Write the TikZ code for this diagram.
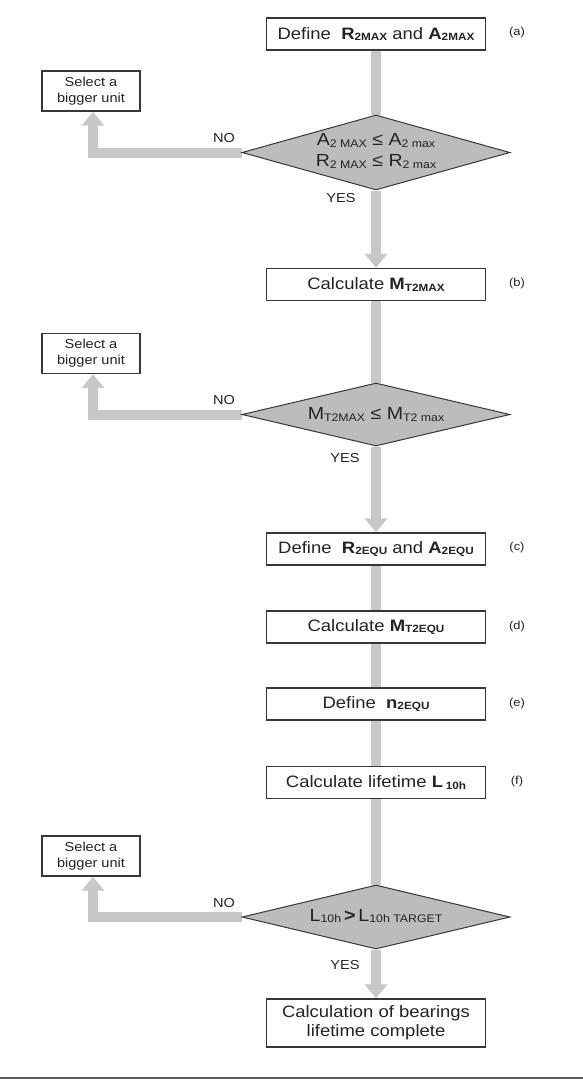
\documentclass[tikz,border=0pt]{standalone}
\usepackage{fontspec}
\setmainfont{Liberation Sans}[FakeStretch=1.12]
\usetikzlibrary{shapes.geometric,arrows.meta,backgrounds}
\definecolor{shaft}{RGB}{200,200,200}
\definecolor{dfill}{RGB}{188,188,188}
\definecolor{edge}{RGB}{55,55,55}
\definecolor{txt}{RGB}{35,35,35}
\definecolor{rule}{RGB}{95,95,95}
\newcommand{\sbb}[1]{\raisebox{-1.2pt}{\fontsize{10.5}{11}\selectfont\bfseries #1}}
\newcommand{\snn}[1]{\raisebox{-1.5pt}{\fontsize{11}{12}\selectfont #1}}
\tikzset{
  box/.style={draw=edge, line width=1.3pt, fill=white, minimum width=219pt, minimum height=32pt, inner sep=0pt, text=txt, font=\fontsize{16.5}{19}\selectfont},
  selbox/.style={draw=edge, line width=1.3pt, fill=white, minimum width=98pt, minimum height=40pt, inner sep=0pt, align=center, text=txt, font=\fontsize{13}{16}\selectfont},
  dec/.style={diamond, draw=edge, line width=1pt, fill=dfill, minimum width=268pt, minimum height=75pt, inner sep=0pt},
  dectext/.style={align=center, text=txt, font=\fontsize{17.5}{21}\selectfont},
  flow/.style={draw=shaft, line width=10pt},
  flowa/.style={flow, -{Triangle[width=22pt,length=14pt]}},
  tag/.style={text=txt, font=\fontsize{11.5}{14}\selectfont},
  lbl/.style={text=txt, font=\fontsize{13}{15}\selectfont}
}
\begin{document}
\begin{tikzpicture}[x=1pt,y=-1pt]
\useasboundingbox (0,0) rectangle (583,1081);
% main boxes
\node[box] (a) at (376,34) {Define\ \ \textbf{R}\sbb{2MAX} and \textbf{A}\sbb{2MAX}};
\node[box] (b) at (376,284.5) {Calculate \textbf{M}\sbb{T2MAX}};
\node[box] (c) at (376,549) {Define\ \ \textbf{R}\sbb{2EQU} and \textbf{A}\sbb{2EQU}};
\node[box] (d) at (376,627) {Calculate \textbf{M}\sbb{T2EQU}};
\node[box] (e) at (376,704) {Define\ \ \textbf{n}\sbb{2EQU}};
\node[box] (f) at (376,782.5) {Calculate lifetime \textbf{L}\,\sbb{10h}};
\node[box, minimum height=48pt, align=center] (fin) at (376,1023) {Calculation of bearings\\lifetime complete};
% decisions
\node[dec] (d1) at (376,152.5) {};
\node[dectext] (d1t) at (376,151) {A\snn{2 MAX} ≤ A\snn{2 max}\\R\snn{2 MAX} ≤ R\snn{2 max}};
\node[dec, minimum height=63pt] (d2) at (376,414.5) {};
\node[dectext] (d2t) at (376,414.5) {M\snn{T2MAX} ≤ M\snn{T2 max}};
\node[dec, minimum height=64pt] (d3) at (376,917) {};
\node[dectext] (d3t) at (376,916) {L\snn{10h}\,\textbf{>}\,L\snn{10h TARGET}};
% side boxes
\node[selbox] (s1) at (91,91) {Select a\\bigger unit};
\node[selbox] (s2) at (91,353.5) {Select a\\bigger unit};
\node[selbox] (s3) at (91,856) {Select a\\bigger unit};
% tags
\node[tag] (ta) at (517,33) {(a)};
\node[tag] (tb) at (517,284) {(b)};
\node[tag] (tc) at (517,548) {(c)};
\node[tag] (td) at (517,627) {(d)};
\node[tag] (te) at (517,704) {(e)};
\node[tag] (tf) at (517,782) {(f)};
% labels
\node[lbl] (no1) at (224,138) {NO};
\node[lbl] (yes1) at (341,198) {YES};
\node[lbl] (no2) at (224,400) {NO};
\node[lbl] (yes2) at (345,458) {YES};
\node[lbl] (no3) at (224,903) {NO};
\node[lbl] (yes3) at (345,965) {YES};
% connectors
\begin{pgfonlayer}{background}
\draw[flow] (a.south) -- (d1.north);
\draw[flowa] (d1.south) -- (b.north);
\draw[flowa] (d1.west) -| ([xshift=2pt]s1.south);
\draw[flow] (b.south) -- (d2.north);
\draw[flowa] (d2.south) -- (c.north);
\draw[flowa] (d2.west) -| ([xshift=2pt]s2.south);
\draw[flow] (c.south) -- (d.north);
\draw[flow] (d.south) -- (e.north);
\draw[flow] (e.south) -- (f.north);
\draw[flow] (f.south) -- (d3.north);
\draw[flowa] (d3.south) -- (fin.north);
\draw[flowa] (d3.west) -| ([xshift=2pt]s3.south);
\end{pgfonlayer}
\draw[rule, line width=2.5pt] (0,1078) -- (583,1078);
\end{tikzpicture}
\end{document}
